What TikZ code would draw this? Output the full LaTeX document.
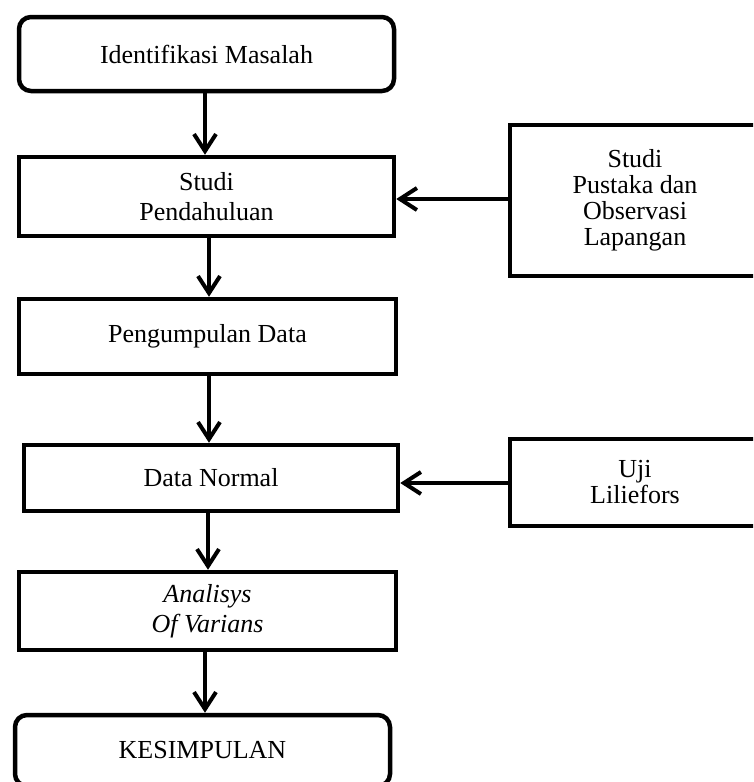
\documentclass[tikz,border=0pt]{standalone}
\usepackage{fontspec}
\setmainfont{Liberation Serif}
\usetikzlibrary{arrows.meta}
\tikzset{
  box/.style={draw=black, line width=4.5pt, fill=white, inner sep=0pt, align=center,
    font=\fontsize{26}{30}\selectfont},
  rbox/.style={box, rounded corners=12pt},
  sbox/.style={box, font=\fontsize{26}{26}\selectfont},
  arr/.style={line width=4pt, -{Straight Barb[length=17pt, width=22pt, line width=4pt]}},
}
\begin{document}
\begin{tikzpicture}[x=1pt, y=-1pt]
\useasboundingbox (0,0) rectangle (753,782);
\clip (0,0) rectangle (753,782);
\fill[white] (0,0) rectangle (753,782);
\node[rbox, minimum width=375pt, minimum height=74pt] (id) at (206.5,54) {Identifikasi Masalah};
\node[box, minimum width=375pt, minimum height=79pt] (sp) at (206.5,196.5) {Studi\\Pendahuluan};
\node[box, minimum width=377pt, minimum height=75pt] (pd) at (207.5,336.5) {Pengumpulan Data};
\node[box, minimum width=374pt, minimum height=66pt] (dn) at (211,478) {Data Normal};
\node[box, minimum width=377pt, minimum height=78pt] (av) at (207.5,611) {\itshape Analisys\\\itshape Of Varians};
\node[rbox, minimum width=375pt, minimum height=71pt] (ks) at (202.5,750.5) {KESIMPULAN};
\node[sbox, minimum width=250pt, minimum height=151pt] (r1) at (635,200.5) {Studi\\Pustaka dan\\Observasi\\Lapangan};
\node[sbox, minimum width=250pt, minimum height=87pt] (r2) at (635,482.5) {Uji\\Liliefors};
\coordinate (x1) at (205,0);
\coordinate (x2) at (208,0);
\coordinate (x3) at (209,0);
\draw[arr] (id.south -| x1) -- (sp.north -| x1);
\draw[arr] (sp.south -| x3) -- (pd.north -| x3);
\draw[arr] (pd.south -| x3) -- (dn.north -| x3);
\draw[arr] (dn.south -| x2) -- (av.north -| x2);
\draw[arr] (av.south -| x1) -- (ks.north -| x1);
\draw[arr] (r1.west |- 0,199) -- (sp.east |- 0,199);
\draw[arr] (r2.west |- 0,483) -- (dn.east |- 0,483);
\end{tikzpicture}
\end{document}
